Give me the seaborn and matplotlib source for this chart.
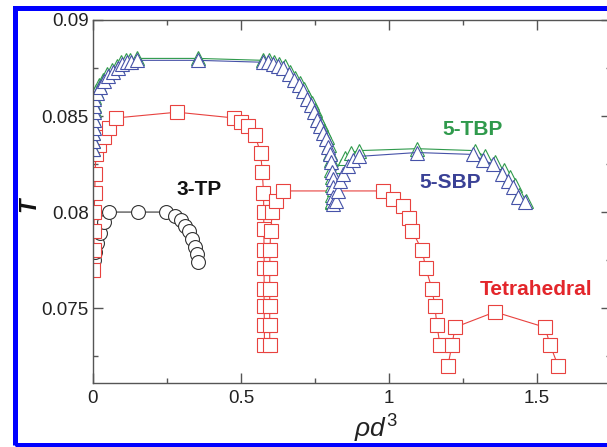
"""
Phase diagram T vs rho*d^3 for patchy particle models.
"""
import matplotlib
matplotlib.use("Agg")
import matplotlib.pyplot as plt
from matplotlib.patches import Rectangle
from matplotlib.ticker import MultipleLocator
import seaborn as sns

# 3-TP (black circles)
tp3_x = [0.003, 0.008, 0.015, 0.025, 0.038, 0.055, 0.152, 0.247, 0.277, 0.297,
         0.311, 0.324, 0.335, 0.344, 0.351, 0.355]
tp3_y = [0.0775, 0.0779, 0.0784, 0.0789, 0.0795, 0.0800, 0.0800, 0.0800, 0.0798, 0.0796,
         0.0793, 0.0790, 0.0786, 0.0782, 0.0778, 0.0774]

# Tetrahedral (red squares), three branches
tet1_x = [0.000, 0.003, 0.003, 0.004, 0.006, 0.007, 0.010, 0.020, 0.037, 0.054,
          0.078, 0.284, 0.476, 0.500, 0.524, 0.547, 0.566, 0.572, 0.576, 0.577,
          0.577, 0.578, 0.578, 0.578, 0.578, 0.579, 0.579]
tet1_y = [0.0770, 0.0780, 0.0790, 0.0800, 0.0810, 0.0820, 0.0830, 0.0835, 0.0839, 0.0844,
          0.0849, 0.0852, 0.0849, 0.0847, 0.0845, 0.0840, 0.0831, 0.0821, 0.0810, 0.0800,
          0.0791, 0.0780, 0.0771, 0.0760, 0.0751, 0.0741, 0.0731]
tet2_x = [0.597, 0.597, 0.597, 0.597, 0.597, 0.598, 0.600, 0.606, 0.618, 0.642,
          0.980, 1.014, 1.047, 1.067, 1.079, 1.112, 1.124, 1.145, 1.155, 1.162, 1.172]
tet2_y = [0.0731, 0.0741, 0.0751, 0.0760, 0.0771, 0.0780, 0.0790, 0.0800, 0.0806, 0.0811,
          0.0811, 0.0807, 0.0803, 0.0797, 0.0790, 0.0780, 0.0771, 0.0760, 0.0751, 0.0741, 0.0731]
tet3_x = [1.199, 1.213, 1.223, 1.358, 1.527, 1.544, 1.571]
tet3_y = [0.0720, 0.0731, 0.0740, 0.0748, 0.0740, 0.0731, 0.0720]

# 5-SBP (blue triangles), two branches
sbp_a_x = [0.0, 0.0, 0.0, 0.002, 0.002, 0.002, 0.003, 0.004, 0.013, 0.024,
           0.037, 0.050, 0.068, 0.084, 0.098, 0.115, 0.128, 0.149, 0.355, 0.574,
           0.591, 0.608, 0.625, 0.642, 0.662, 0.679, 0.696, 0.709, 0.723, 0.736,
           0.747, 0.757, 0.767, 0.777, 0.787, 0.794, 0.801, 0.804, 0.807, 0.810,
           0.811, 0.811, 0.811]
sbp_a_y = [0.0833, 0.0837, 0.0841, 0.0844, 0.0848, 0.0852, 0.0855, 0.0859, 0.0862, 0.0865,
           0.0868, 0.0871, 0.0873, 0.0875, 0.0877, 0.0878, 0.0878, 0.0879, 0.0879, 0.0878,
           0.0878, 0.0877, 0.0876, 0.0875, 0.0872, 0.0869, 0.0866, 0.0863, 0.0859, 0.0856,
           0.0852, 0.0848, 0.0845, 0.0841, 0.0838, 0.0834, 0.0830, 0.0826, 0.0821, 0.0817,
           0.0813, 0.0808, 0.0804]
sbp_b_x = [0.822, 0.828, 0.836, 0.846, 0.860, 0.878, 0.900, 1.095, 1.284, 1.318,
           1.351, 1.382, 1.402, 1.419, 1.436, 1.459]
sbp_b_y = [0.0806, 0.0811, 0.0816, 0.0820, 0.0824, 0.0827, 0.0829, 0.0831, 0.0830, 0.0827,
           0.0825, 0.0820, 0.0816, 0.0813, 0.0808, 0.0805]

# 5-TBP (green triangles), two branches
tbp_a_x = [0.0, 0.0, 0.0, 0.001, 0.001, 0.002, 0.003, 0.004, 0.011, 0.021,
           0.033, 0.046, 0.063, 0.080, 0.095, 0.112, 0.126, 0.149, 0.355, 0.576,
           0.594, 0.612, 0.629, 0.647, 0.667, 0.684, 0.700, 0.714, 0.728, 0.741,
           0.751, 0.761, 0.771, 0.780, 0.789, 0.796, 0.801, 0.803, 0.805, 0.806,
           0.806, 0.806, 0.806]
tbp_a_y = [0.0833, 0.0837, 0.0841, 0.0845, 0.0849, 0.0853, 0.0856, 0.0860, 0.0863, 0.0866,
           0.0869, 0.0872, 0.0874, 0.0876, 0.0878, 0.0879, 0.0879, 0.0880, 0.0880, 0.0879,
           0.0879, 0.0878, 0.0877, 0.0876, 0.0873, 0.0870, 0.0867, 0.0864, 0.0860, 0.0857,
           0.0853, 0.0849, 0.0846, 0.0842, 0.0839, 0.0835, 0.0831, 0.0827, 0.0822, 0.0818,
           0.0814, 0.0809, 0.0805]
tbp_b_x = [0.806, 0.815, 0.826, 0.838, 0.852, 0.872, 0.900, 1.095, 1.290, 1.325,
           1.357, 1.388, 1.408, 1.424, 1.440, 1.462]
tbp_b_y = [0.0806, 0.0812, 0.0818, 0.0824, 0.0828, 0.0831, 0.0832, 0.0833, 0.0832, 0.0829,
           0.0826, 0.0822, 0.0818, 0.0814, 0.0809, 0.0806]

red = "#e8423f"
blue = "#4652a8"
green = "#2f9a4c"
black = "#333333"

sns.set_theme(style="ticks")
plt.rcParams["font.family"] = ["Liberation Sans", "DejaVu Sans"]
plt.rcParams["mathtext.fontset"] = "custom"
plt.rcParams["mathtext.it"] = "Liberation Sans:italic"
plt.rcParams["mathtext.rm"] = "Liberation Sans"

fig = plt.figure(figsize=(6.07, 4.47), dpi=100)
ax = fig.add_axes([93 / 607, 64 / 447, 518 / 607, 363 / 447])


def branch(x, y, color, marker, ms=10):
    sns.lineplot(x=x, y=y, ax=ax, sort=False, estimator=None, color=color,
                 linewidth=0.8, marker=marker, markersize=ms,
                 markerfacecolor="white", markeredgecolor=color,
                 markeredgewidth=0.8)


branch(tp3_x, tp3_y, black, "o")
branch(tet1_x, tet1_y, red, "s", 9.5)
branch(tet2_x, tet2_y, red, "s", 9.5)
branch(tet3_x, tet3_y, red, "s", 9.5)
branch(tbp_a_x, tbp_a_y, green, "^", 10.5)
branch(tbp_b_x, tbp_b_y, green, "^", 10.5)
branch(sbp_a_x, sbp_a_y, blue, "^", 10.5)
branch(sbp_b_x, sbp_b_y, blue, "^", 10.5)

ax.set_xlim(0, 1.75)
ax.set_ylim(0.0711, 0.09)
ax.xaxis.set_major_locator(MultipleLocator(0.5))
ax.xaxis.set_minor_locator(MultipleLocator(0.25))
ax.yaxis.set_major_locator(MultipleLocator(0.005))
ax.yaxis.set_minor_locator(MultipleLocator(0.0025))
ax.set_xticks([0, 0.5, 1, 1.5], ["0", "0.5", "1", "1.5"])
ax.set_yticks([0.075, 0.08, 0.085, 0.09], ["0.075", "0.08", "0.085", "0.09"])
ax.tick_params(which="both", direction="in", top=True, right=True,
               color="#555555", width=1, labelsize=13.5, labelcolor="#222222")
ax.tick_params(which="major", length=7)
ax.tick_params(which="minor", length=3.5)
ax.tick_params(axis="x", pad=5)
ax.tick_params(axis="y", pad=3)
for sp in ax.spines.values():
    sp.set_color("#555555")
    sp.set_linewidth(1)
ax.set_xlabel("")
ax.set_ylabel("")

ax.text(0.36, 0.08117, "3-TP", color="#111111", fontsize=15, fontweight="bold",
        ha="center", va="center")
ax.text(1.282, 0.0843, "5-TBP", color=green, fontsize=15, fontweight="bold",
        ha="center", va="center")
ax.text(1.206, 0.08154, "5-SBP", color="#3a4196", fontsize=15, fontweight="bold",
        ha="center", va="center")
ax.text(1.497, 0.07596, "Tetrahedral", color="#e3262b", fontsize=15, fontweight="bold",
        ha="center", va="center")

fig.text(376 / 607, 9 / 447, r"$\rho d^3$", fontsize=19, ha="center", va="baseline",
         color="#222222")
fig.text(29 / 607, 242 / 447, "T", fontsize=17, fontweight="bold", fontstyle="italic",
         rotation=90, ha="center", va="center", color="#111111")

# blue frame around the figure (right side runs off the image)
fig.patches.append(Rectangle((14.5 / 607, 2.5 / 447), 1.2, 437 / 447,
                             transform=fig.transFigure, fill=False,
                             edgecolor="#0000ff", linewidth=3.6, clip_on=False))

fig.savefig("out.png", dpi=100)
